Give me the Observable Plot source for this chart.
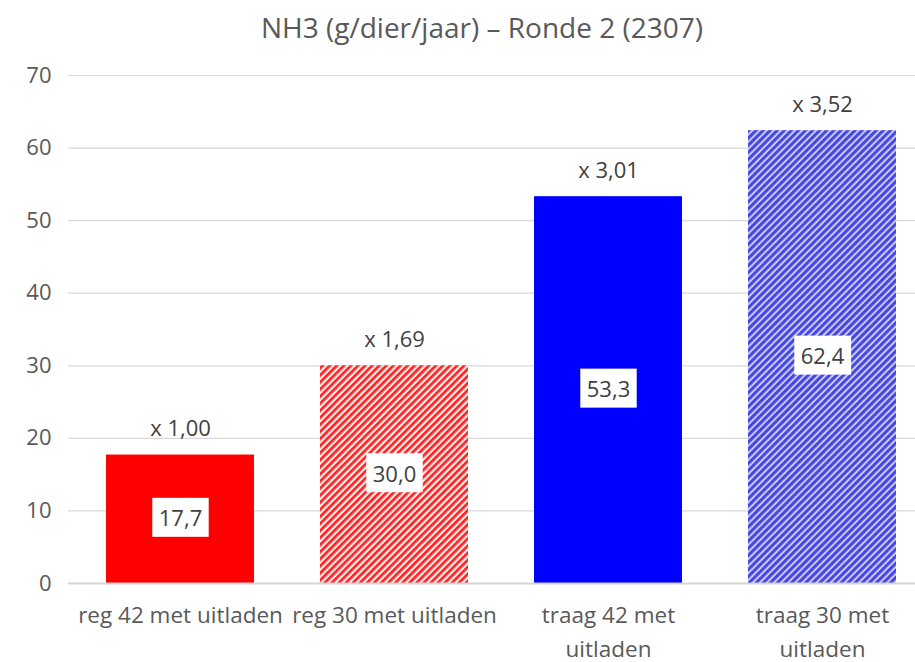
<!DOCTYPE html>
<html>
<head>
<meta charset="utf-8">
<script src="https://cdn.jsdelivr.net/npm/d3@7"></script>
<script src="https://cdn.jsdelivr.net/npm/@observablehq/plot@0.6"></script>
<style>
  html, body { margin: 0; padding: 0; background: #ffffff; }
  body { width: 915px; height: 662px; overflow: hidden; font-family: "Open Sans", sans-serif; }
  #title {
    box-sizing: border-box;
    height: 50px;
    padding-top: 9px;
    padding-left: 49px;
    line-height: 37px;
    font-size: 28px;
    color: #595959;
    text-align: center;
    white-space: nowrap;
  }
</style>
</head>
<body>
<div id="title">NH3 (g/dier/jaar) – Ronde 2 (2307)</div>
<div id="chart"></div>
<script>
// ---- data ----
const categories = ["reg 42 met uitladen", "reg 30 met uitladen", "traag 42 met uitladen", "traag 30 met uitladen"];
const tickLabels = ["reg 42 met uitladen", "reg 30 met uitladen", "traag 42 met\nuitladen", "traag 30 met\nuitladen"];
const values = [17.7, 30.0, 53.3, 62.4];
const valueLabels = ["17,7", "30,0", "53,3", "62,4"];
const factorLabels = ["x 1,00", "x 1,69", "x 3,01", "x 3,52"];
const fills = ["#ff0000", "url(#hatchRed)", "#0000ff", "url(#hatchBlue)"];
const yTicks = [0, 10, 20, 30, 40, 50, 60, 70];

const data = categories.map((c, i) => ({
  cat: c, value: values[i], vlabel: valueLabels[i], factor: factorLabels[i], fill: fills[i]
}));
const tickMap = new Map(categories.map((c, i) => [c, tickLabels[i]]));

const chart = Plot.plot({
  width: 915,
  height: 612,
  marginLeft: 68,
  marginRight: 0,
  marginTop: 25,
  marginBottom: 79,
  style: { fontFamily: "'Open Sans', sans-serif", fontSize: "22px", color: "#595959", background: "#ffffff" },
  x: { domain: categories, range: [68, 933], paddingInner: 0.31, paddingOuter: 0.167 },
  y: { domain: [0, 70] },
  color: { type: "identity" },
  marks: [
    Plot.gridY(yTicks, { stroke: "#d9d9d9", strokeOpacity: 1, strokeWidth: 1.2 }),
    Plot.barY(data, { x: "cat", y: "value", fill: "fill" }),
    Plot.ruleY([0], { stroke: "#d4d4d4", strokeWidth: 2 }),
    Plot.axisY({ ticks: yTicks, tickSize: 0, tickPadding: 17, fontSize: 22, label: null }),
    Plot.axisX({ tickSize: 0, tickPadding: 16, fontSize: 22.5, lineHeight: 1.5, label: null,
                 tickFormat: d => tickMap.get(d) }),
    Plot.text(data, { x: "cat", y: d => d.value / 2, text: "vlabel", fill: "#404040", fontSize: 22 }),
    Plot.text(data, { x: "cat", y: "value", text: "factor", dy: -26, fill: "#404040", fontSize: 22 })
  ]
});

// hatch patterns
const svg = d3.select(chart);
const defs = svg.insert("defs", ":first-child");
const red = defs.append("pattern").attr("id", "hatchRed").attr("patternUnits", "userSpaceOnUse")
  .attr("width", 5).attr("height", 5).attr("patternTransform", "rotate(45)");
red.append("rect").attr("width", 5).attr("height", 5).attr("fill", "#ffecec");
red.append("rect").attr("width", 2.7).attr("height", 5).attr("fill", "#ff2020");
const blue = defs.append("pattern").attr("id", "hatchBlue").attr("patternUnits", "userSpaceOnUse")
  .attr("width", 5).attr("height", 5).attr("patternTransform", "rotate(45)");
blue.append("rect").attr("width", 5).attr("height", 5).attr("fill", "#c6c6f2");
blue.append("rect").attr("width", 2.9).attr("height", 5).attr("fill", "#4444e2");

document.getElementById("chart").appendChild(chart);

// white boxes behind the value labels
svg.selectAll("text").filter(function () {
  return valueLabels.includes(this.textContent.trim()) && !this.closest('g[aria-label*="axis"]');
}).each(function () {
  const b = this.getBBox();
  const r = document.createElementNS("http://www.w3.org/2000/svg", "rect");
  r.setAttribute("x", b.x - 6.5);
  r.setAttribute("y", b.y - 4.5);
  r.setAttribute("width", b.width + 13);
  r.setAttribute("height", b.height + 9);
  r.setAttribute("fill", "#ffffff");
  const t = this.getAttribute("transform");
  if (t) r.setAttribute("transform", t);
  this.parentNode.insertBefore(r, this);
});
</script>
</body>
</html>
